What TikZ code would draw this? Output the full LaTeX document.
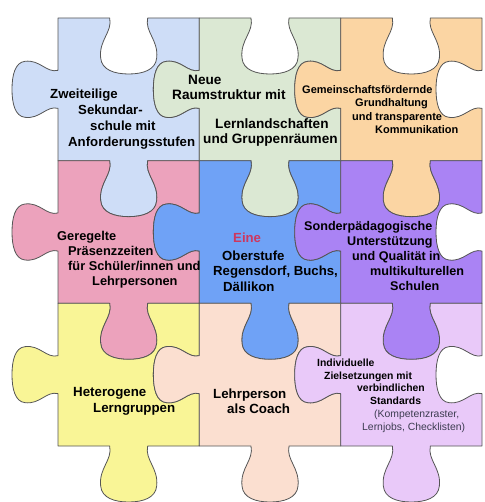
\documentclass[tikz,border=0pt]{standalone}
\usepackage{fontspec}
\setmainfont{Liberation Sans}
\usepackage{tikz}

\definecolor{bluelight}{RGB}{206,221,247}
\definecolor{greenlight}{RGB}{219,232,211}
\definecolor{orangelight}{RGB}{251,213,163}
\definecolor{pinkmid}{RGB}{236,162,188}
\definecolor{bluemid}{RGB}{111,162,246}
\definecolor{purplemid}{RGB}{170,131,244}
\definecolor{yellowlight}{RGB}{249,245,150}
\definecolor{peachlight}{RGB}{251,223,208}
\definecolor{lilaclight}{RGB}{233,201,249}
\definecolor{outline}{RGB}{85,85,85}
\definecolor{einered}{RGB}{205,55,95}
\definecolor{notegray}{RGB}{60,60,80}

\tikzset{piece/.style={draw=outline,line width=0.8pt,line join=round}}
\tikzset{piecetext/.style={anchor=north west,inner sep=0pt,align=left,text=black}}

% one piece: socket top and right, tab left and bottom
\newcommand{\puzzlepiece}[3]{%
  \filldraw[piece,fill=#3,shift={(#1,#2)}]
    (0,0) -- (51.67,0)
    .. controls (54.67,14) and (40.67,22) .. (42.67,40)
    .. controls (43.67,52) and (56.67,56) .. (70.67,56)
    .. controls (84.67,56) and (97.67,52) .. (98.67,40)
    .. controls (100.67,22) and (86.67,14) .. (89.67,0)
    -- (141.33,0) -- (141.33,52.33)
    .. controls (129.83,55.33) and (123.33,41.33) .. (108.33,43.33)
    .. controls (98.33,44.33) and (95.33,57.33) .. (95.33,71.33)
    .. controls (95.33,85.33) and (98.33,98.33) .. (108.33,99.33)
    .. controls (123.33,101.33) and (129.83,87.33) .. (141.33,90.33)
    -- (141.33,142.67) -- (89.67,142.67)
    .. controls (86.67,156.67) and (100.67,164.67) .. (98.67,182.67)
    .. controls (97.67,194.67) and (84.67,198.67) .. (70.67,198.67)
    .. controls (56.67,198.67) and (43.67,194.67) .. (42.67,182.67)
    .. controls (40.67,164.67) and (54.67,156.67) .. (51.67,142.67)
    -- (0,142.67) -- (0,90.33)
    .. controls (-11.5,87.33) and (-18,101.33) .. (-33,99.33)
    .. controls (-43,98.33) and (-46,85.33) .. (-46,71.33)
    .. controls (-46,57.33) and (-43,44.33) .. (-33,43.33)
    .. controls (-18,41.33) and (-11.5,55.33) .. (0,52.33)
    -- cycle;}
\newcommand{\piecenode}{\node[piecetext]}

\begin{document}
\begin{tikzpicture}[x=1pt,y=-1pt]
  \useasboundingbox (0,0) rectangle (484,502);
  % row 1
  \puzzlepiece{58}{18}{bluelight}
  \puzzlepiece{199.33}{18}{greenlight}
  \puzzlepiece{340.67}{18}{orangelight}
  % row 2
  \puzzlepiece{58}{160.67}{pinkmid}
  \puzzlepiece{199.33}{160.67}{bluemid}
  \puzzlepiece{340.67}{160.67}{purplemid}
  % row 3
  \puzzlepiece{58}{303.33}{yellowlight}
  \puzzlepiece{199.33}{303.33}{peachlight}
  \puzzlepiece{340.67}{303.33}{lilaclight}

  \piecenode[font=\bfseries\fontsize{13.2}{16}\selectfont] (zweiteilig) at (50,88.5)
    {Zweiteilige\\\hspace*{28pt}Sekundar-\\\hspace*{40pt}schule mit\\\hspace*{18pt}Anforderungsstufen};
  \piecenode[font=\bfseries\fontsize{13.6}{15}\selectfont] (raum) at (172,74.5)
    {\hspace*{16pt}Neue\\Raumstruktur mit\\[14pt]\hspace*{43pt}Lernlandschaften\\\hspace*{31pt}und Gruppenräumen};
  \piecenode[font=\bfseries\fontsize{11}{13.3}\selectfont] (gemein) at (302,85.5)
    {Gemeinschaftsfördernde\\\hspace*{53pt}Grundhaltung\\\hspace*{50pt}und transparente\\\hspace*{73pt}Kommunikation};
  \piecenode[font=\bfseries\fontsize{12.8}{15}\selectfont] (praesenz) at (57,231.5)
    {Geregelte\\\hspace*{11pt}Präsenzzeiten\\\hspace*{11pt}für Schüler/innen und\\\hspace*{35pt}Lehrpersonen};
  \piecenode[font=\bfseries\fontsize{13.2}{15.5}\selectfont] (oberstufe) at (213,232.5)
    {\hspace*{20pt}\textcolor{einered}{Eine}\\[2.5pt]\hspace*{9pt}Oberstufe\\Regensdorf, Buchs,\\\hspace*{10pt}Dällikon};
  \piecenode[font=\bfseries\fontsize{12.6}{15}\selectfont] (sonder) at (304,221.5)
    {Sonderpädagogische\\\hspace*{43pt}Unterstützung\\\hspace*{48pt}und Qualität in\\\hspace*{66pt}multikulturellen\\\hspace*{86pt}Schulen};
  \piecenode[font=\bfseries\fontsize{13.3}{16}\selectfont] (hetero) at (73,387.5)
    {Heterogene\\\hspace*{20pt}Lerngruppen};
  \piecenode[font=\bfseries\fontsize{13.3}{15}\selectfont] (coach) at (213,388.5)
    {Lehrperson\\\hspace*{14pt}als Coach};
  \piecenode[font=\bfseries\fontsize{10.4}{12.8}\selectfont] (ziel) at (317,358.5)
    {Individuelle\\\hspace*{7pt}Zielsetzungen mit\\\hspace*{40pt}verbindlichen\\\hspace*{53pt}Standards\\
     {\mdseries\color{notegray}\hspace*{57pt}(Kompetenzraster,}\\
     {\mdseries\color{notegray}\hspace*{45pt}Lernjobs, Checklisten)}};
\end{tikzpicture}
\end{document}
